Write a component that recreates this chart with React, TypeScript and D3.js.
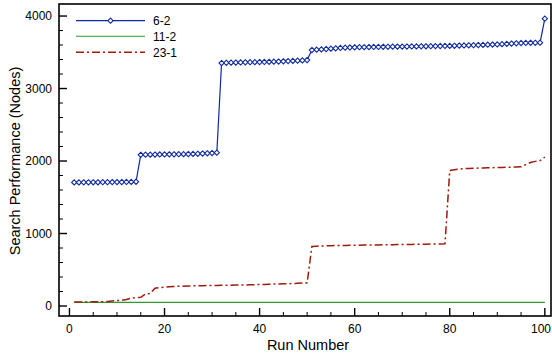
import React from "react";
import * as d3 from "d3";

const runs: number[] = Array.from({ length: 100 }, (_, i) => i + 1);

const series62: number[] = [
  1705, 1705, 1706, 1706, 1707, 1707, 1708, 1708, 1709, 1709, 1710, 1711, 1712, 1714,
  2085, 2087, 2088, 2089, 2090, 2091, 2092, 2093, 2094, 2095, 2096, 2098, 2100, 2103, 2107, 2110, 2115,
  3352, 3355, 3357, 3358, 3360, 3362, 3363, 3364, 3365, 3366, 3368, 3370, 3372, 3375, 3378, 3381, 3384, 3388, 3393,
  3531, 3535, 3540, 3545, 3550, 3555, 3560, 3563, 3566, 3568,
  3570, 3571, 3572, 3573, 3574, 3575, 3576, 3577, 3578, 3578,
  3579, 3580, 3581, 3582, 3583, 3584, 3585, 3586, 3587, 3588,
  3590, 3592, 3594, 3596, 3598, 3600, 3602, 3604, 3606, 3608,
  3612, 3616, 3620, 3624, 3627, 3629, 3630, 3631, 3632, 3963,
];

const series112: number[] = runs.map(() => 50);

const series231: number[] = [
  55, 55, 56, 56, 57, 58, 60, 62,
  70, 75, 80, 90,
  110, 115, 120, 165, 175,
  245, 255, 260,
  265, 270, 272, 274, 276, 278, 280, 281, 282, 283,
  284, 285, 286, 287, 288, 289, 290, 292, 294, 296,
  298, 300, 302, 304, 306, 308, 310, 313, 316, 320,
  820, 825, 828, 830, 832, 834, 835, 836, 837, 838,
  839, 840, 841, 842, 843, 844, 845, 846, 847, 848,
  849, 850, 851, 852, 853, 854, 855, 856, 857,
  1870, 1880, 1890, 1895, 1898, 1900, 1902, 1904, 1906, 1908,
  1910, 1912, 1914, 1916, 1918, 1920, 1950, 1980, 1995, 2005, 2055,
];

const xTicks: number[] = [0, 20, 40, 60, 80, 100];
const yTicks: number[] = [0, 1000, 2000, 3000, 4000];
const seriesNames: string[] = ["6-2", "11-2", "23-1"];

const W = 552;
const H = 354;
const L = 59, R = 551, T = 4, B = 316;
const FONT = "'Liberation Sans', Arial, Helvetica, sans-serif";

export default function App() {
  const x = d3.scaleLinear().domain([-2.2, 101.3]).range([L, R]);
  const y = d3.scaleLinear().domain([-138, 4166]).range([B, T]);

  const line = d3
    .line<[number, number]>()
    .x((d) => x(d[0]))
    .y((d) => y(d[1]));

  const d62 = runs.map((r, i) => [r, series62[i]] as [number, number]);
  const d112 = runs.map((r, i) => [r, series112[i]] as [number, number]);
  const d231 = runs.map((r, i) => [r, series231[i]] as [number, number]);

  const xMinor = d3.range(0, 101, 5).filter((v) => v % 20 !== 0);
  const yMinor = d3.range(0, 4001, 200).filter((v) => v % 1000 !== 0);

  const diamond = (cx: number, cy: number, s = 2.6) =>
    `M${cx},${cy - s}L${cx + s},${cy}L${cx},${cy + s}L${cx - s},${cy}Z`;

  const blue = "#0f2a9e";
  const green = "#2f9a2f";
  const red = "#9e1a0c";

  const legY = [20.7, 36.3, 52.3];

  return (
    <svg
      width={W}
      height={H}
      style={{ position: "absolute", left: 0, top: 0, background: "#fff" }}
      fontFamily={FONT}
    >
      <rect x={0} y={0} width={W} height={H} fill="#fff" />
      {/* series */}
      <path d={line(d112) || ""} fill="none" stroke={green} strokeWidth={1.1} />
      <path
        d={line(d231) || ""}
        fill="none"
        stroke={red}
        strokeWidth={1.5}
        strokeDasharray="8,3,2,3"
      />
      <path d={line(d62) || ""} fill="none" stroke={blue} strokeWidth={1.2} />
      {d62.map((d, i) => (
        <path
          key={i}
          d={diamond(x(d[0]), y(d[1]))}
          fill="#fff"
          stroke={blue}
          strokeWidth={1.1}
        />
      ))}

      {/* frame */}
      <rect x={L} y={T} width={R - L} height={B - T} fill="none" stroke="#000" strokeWidth={1.6} />

      {/* x ticks */}
      {xTicks.map((t, i) => {
        const last = i === xTicks.length - 1;
        return (
          <g key={"xt" + t}>
            <line x1={x(t)} x2={x(t)} y1={B} y2={B - 8} stroke="#000" strokeWidth={1.4} />
            <text
              x={last ? W - 1 : x(t)}
              y={333}
              fontSize={12}
              textAnchor={last ? "end" : "middle"}
              fill="#000"
            >
              {t}
            </text>
          </g>
        );
      })}
      {xMinor.map((t) => (
        <line key={"xm" + t} x1={x(t)} x2={x(t)} y1={B} y2={B - 4} stroke="#000" strokeWidth={1} />
      ))}

      {/* y ticks */}
      {yTicks.map((t) => (
        <g key={"yt" + t}>
          <line x1={L} x2={L + 8} y1={y(t)} y2={y(t)} stroke="#000" strokeWidth={1.4} />
          <text x={52} y={y(t) + 4} fontSize={12} textAnchor="end" fill="#000">
            {t}
          </text>
        </g>
      ))}
      {yMinor.map((t) => (
        <line key={"ym" + t} x1={L} x2={L + 4} y1={y(t)} y2={y(t)} stroke="#000" strokeWidth={1} />
      ))}

      {/* axis labels */}
      <text x={308} y={350} fontSize={14.5} textAnchor="middle" fill="#000">
        Run Number
      </text>
      <text
        transform={`translate(20,161) rotate(-90)`}
        fontSize={14.5}
        textAnchor="middle"
        fill="#000"
      >
        Search Performance (Nodes)
      </text>

      {/* legend */}
      <line x1={76} x2={145} y1={legY[0]} y2={legY[0]} stroke={blue} strokeWidth={1.2} />
      <path d={diamond(110.5, legY[0])} fill="#fff" stroke={blue} strokeWidth={1.1} />
      <line x1={76} x2={145} y1={legY[1]} y2={legY[1]} stroke={green} strokeWidth={1.1} />
      <line
        x1={76}
        x2={145}
        y1={legY[2]}
        y2={legY[2]}
        stroke={red}
        strokeWidth={1.5}
        strokeDasharray="8,3,2,3"
      />
      {seriesNames.map((n, i) => (
        <text key={n} x={153} y={legY[i] + 4.3} fontSize={12} fill="#000">
          {n}
        </text>
      ))}
    </svg>
  );
}
